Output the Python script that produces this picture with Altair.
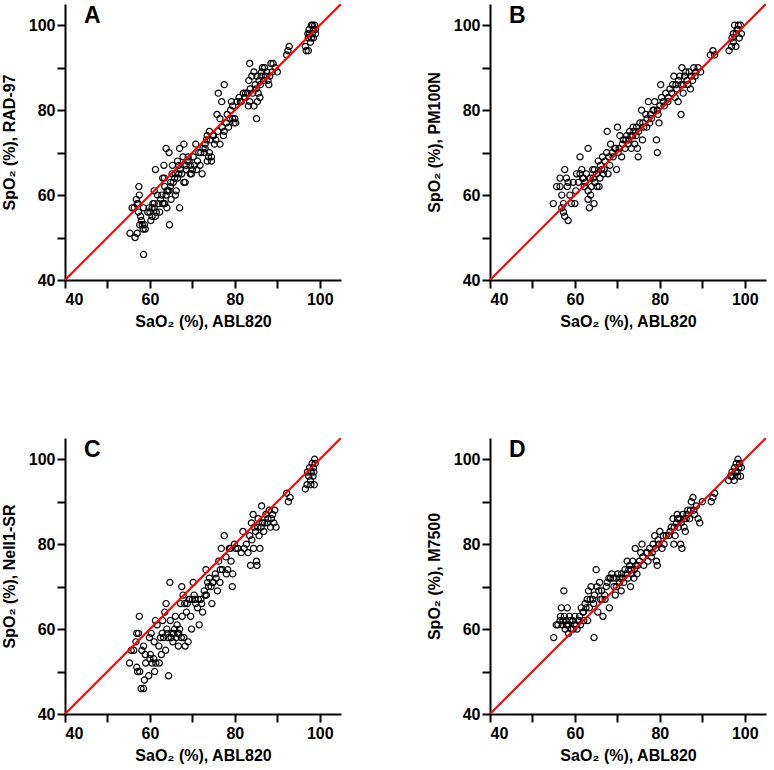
import altair as alt
import pandas as pd

panel_letters = ["A", "B", "C", "D"]
y_titles = ["SpO₂ (%),  RAD-97", "SpO₂ (%), PM100N", "SpO₂ (%), Nell1-SR", "SpO₂ (%), M7500"]
x_title = "SaO₂ (%), ABL820"
tick_values = [40, 50, 60, 70, 80, 90, 100]
axis_domain = [40, 105]
identity_line = [40, 105]

# (SaO2 ABL820, SpO2 device)
rad97 = [(55.3,51),(56.5,50),(57.0,51),(55.8,57),(56.3,57),(56.8,59),(57.0,58),(57.4,62),(57.5,60),(57.3,56),
         (57.8,55),(58.0,54),(57.6,53),(58.2,53),(58.7,53),(58.4,52),(58.9,52),(58.5,46),(58.5,57),(57.2,58),
         (59.5,56),(59.8,57),(60.0,56),(60.2,54),(60.5,55),(60.7,58),(61.0,58),(60.5,57),(61.0,57),(61.5,56),
         (61.3,55),(61.0,61),(61.3,66),(61.8,60),(62.0,58),(62.3,56),(62.5,59),(62.8,60),(63.0,58),(63.3,58),
         (63.5,58),(63.0,64),(63.4,64),(63.3,67),(63.8,71),(63.5,62),(63.8,60),(64.0,57),(64.0,61),(64.2,61),
         (64.5,61),(64.8,62),(64.5,70),(64.9,63),(64.6,53),(65.0,59),(65.2,65),(65.5,63),(65.3,67),(65.8,64),
         (66.0,65),(66.0,60),(66.2,61),(66.5,64),(66.5,68),(66.8,67),(67.0,71),(67.0,57),(66.8,65),(67.2,66),
         (67.5,65),(67.8,69),(68.0,72),(68.0,63),(68.3,63),(68.5,66),(68.5,67),(68.8,68),(69.0,69),(69.2,68),
         (69.5,67),(69.5,65),(69.8,65),(70.0,66),(70.2,69),(70.5,67),(70.8,72),(71.0,66),(71.2,68),(71.5,70),
         (71.8,67),(72.0,70),(72.3,65),(72.5,71),(72.8,70),(73.0,72),(73.0,71),(73.3,73),(73.5,74),(73.5,68),
         (73.8,69),(74.0,70),(74.0,75),(74.2,73),(74.5,69),(74.5,68),(74.8,74),(75.0,74),(75.2,72),(75.5,73),
         (75.8,79),(76.0,75),(76.1,84),(76.5,78),(76.9,82),(76.5,72),(77.0,76),(77.3,74),(77.5,75),(77.5,86),
         (78.0,77),(78.2,79),(78.5,76),(78.8,78),(79.0,80),(79.2,82),(79.5,81),(79.5,78),(79.8,77),(80.0,78),
         (80.2,77),(80.5,82),(81.0,83),(81.3,82),(81.5,82),(82.0,84),(82.3,83),(82.5,84),(83.0,84),(83.2,81),
         (83.5,82),(83.3,87),(83.5,91),(83.6,85),(84.0,88),(84.2,84),(84.5,81),(84.5,89),(84.8,86),(85.0,85),
         (85.2,88),(85.3,82),(85.5,84),(85.1,78),(85.7,87),(85.9,83),(86.0,86),(86.2,88),(86.3,89),(86.5,90),
         (86.8,87),(87.0,90),(87.2,88),(87.5,89),(87.8,87),(88.0,86),(88.2,88),(88.5,91),(88.8,89),(89.0,91),
         (89.5,90),(90.0,89),(92.2,93),(92.5,94),(92.8,95),(96.6,95),(96.8,94),(97.3,94),(97.2,98),(97.5,99),
         (97.8,96),(98.0,97),(98.0,100),(98.2,98),(98.5,99),(98.5,97),(98.8,100),(99.0,99),(99.0,98),(97.3,97),
         (97.6,98),(98.3,100)]

pm100n = [(54.9,58),(55.7,62),(56.5,64),(56.5,62),(56.9,60),(57.3,58),(56.9,57),(57.3,56),(57.6,55),(58.4,54),
          (57.6,66),(58.0,64),(58.4,63),(58.8,60),(59.2,58),(60.0,58),(59.6,63),(60.4,65),(60.8,63),(61.2,65),
          (61.2,69),(61.6,66),(62.0,64),(62.4,63),(62.7,65),(63.1,71),(63.1,61),(63.1,59),(63.4,57),(63.7,60),
          (63.9,62),(64.2,66),(64.3,64),(64.5,58),(64.7,63),(65.1,65),(65.5,68),(65.7,62),(65.9,64),(66.3,66),
          (66.5,69),(66.7,65),(67.1,68),(67.5,70),(67.6,75),(67.8,65),(68.2,67),(68.4,72),(69.0,69),(69.4,71),
          (69.8,66),(70.0,76),(70.2,70),(70.6,74),(71.0,69),(71.4,73),(71.8,71),(72.2,74),(72.5,72),(72.9,75),
          (73.3,71),(73.6,74),(73.7,76),(74.1,72),(74.4,74),(74.7,71),(74.9,69),(75.3,77),(75.7,80),(75.9,73),
          (76.2,76),(76.7,79),(76.9,76),(77.3,82),(77.6,77),(78.0,78),(78.4,80),(78.8,82),(79.2,73),(79.4,70),
          (79.6,79),(79.8,77),(80.2,86),(80.4,83),(80.8,82),(81.4,84),(81.9,82),(82.4,85),(83.0,86),(83.3,88),
          (83.6,83),(84.0,85),(84.3,82),(84.7,88),(85.0,79),(85.2,90),(85.5,84),(85.6,86),(86.1,89),(86.4,87),
          (86.9,89),(87.2,85),(87.7,87),(88.0,90),(88.5,89),(89.0,90),(89.6,89),(91.9,93),(92.5,94),(92.9,93),
          (96.3,94),(96.9,95),(97.3,96),(97.3,98),(97.6,100),(98.0,98),(98.4,99),(98.7,97),(99.0,100),(99.2,98),
          (97.9,95),(98.2,99),(58.2,62),(60.2,61),(61.8,64),(62.2,62),(63.6,64),(64.6,66),(65.2,62),(66.0,67),
          (66.9,66),(68.0,69),(68.8,70),(69.6,71),(70.4,71),(71.2,72),(72.0,73),(72.7,73),(73.2,74),(73.9,75),
          (74.5,76),(75.0,75),(76.0,77),(77.0,78),(77.8,79),(78.6,80),(79.4,80),(80.0,81),(81.0,81),(82.0,83),
          (82.8,84),(83.8,86),(84.4,87),(85.0,86),(85.8,88),(86.6,86),(87.4,88),(88.3,88),(97.0,97),(98.5,100)]

nell1 = [(55.2,52),(55.6,55),(56.2,55),(56.7,57),(56.9,59),(57.3,59),(57.5,63),(56.9,51),(57.1,50),(57.6,50),
         (57.9,46),(58.5,46),(58.1,55),(58.5,56),(58.9,54),(58.7,48),(59.7,49),(59.9,58),(60.3,59),(60.1,54),
         (60.5,52),(60.9,53),(61.1,50),(61.3,62),(61.4,52),(61.7,61),(62.1,56),(62.2,52),(62.7,54),(62.9,59),
         (63.0,62),(63.5,64),(63.7,55),(63.8,66),(64.0,60),(64.3,58),(64.4,49),(64.7,71),(64.8,62),(65.2,59),
         (65.4,57),(65.6,59),(66.0,63),(66.2,58),(66.4,61),(66.7,56),(66.8,59),(67.2,66),(67.5,70),(67.6,63),
         (67.8,68),(68.0,58),(68.3,56),(68.6,64),(68.8,66),(69.0,57),(69.4,67),(69.6,63),(69.8,60),(70.2,71),
         (70.4,68),(70.8,66),(71.2,65),(71.6,61),(72.0,67),(72.4,64),(72.8,69),(73.2,74),(73.3,68),(73.6,71),
         (74.0,72),(74.4,70),(74.6,66),(74.9,71),(75.4,73),(75.9,69),(76.2,76),(76.5,71),(76.8,79),(77.1,74),
         (77.5,82),(77.9,77),(78.3,74),(78.7,79),(79.1,76),(79.4,70),(79.5,73),(79.9,80),(80.7,79),(81.5,78),
         (81.9,83),(82.7,80),(83.1,78),(83.5,82),(83.7,75),(83.9,85),(84.3,87),(84.4,79),(84.9,83),(85.1,76),
         (85.2,75),(85.5,86),(85.7,82),(85.9,79),(86.3,89),(86.5,85),(86.8,83),(87.3,87),(87.6,85),(88.1,88),
         (88.4,84),(88.9,87),(89.2,85),(89.4,88),(89.7,84),(92.2,92),(92.6,90),(93.0,91),(96.6,93),(97.0,94),
         (97.1,97),(97.6,98),(97.8,95),(97.9,94),(98.2,99),(98.4,96),(98.6,97),(98.7,94),(98.9,99),(98.8,100),
         (59.0,52),(60.0,53),(61.0,57),(62.5,58),(63.2,58),(64.1,59),(65.0,58),(65.8,60),(66.5,59),(67.0,60),
         (67.4,58),(68.2,66),(69.2,67),(70.0,67),(70.6,67),(71.4,67),(72.2,66),(73.0,68),(73.8,70),(74.8,71),
         (75.6,72),(76.6,74),(78.0,73),(79.0,79),(80.2,79),(82.2,79),(84.0,81),(84.6,84),(85.4,84),(86.2,84),
         (87.0,85),(87.8,86),(88.6,86),(97.4,96),(98.0,97),(98.5,98)]

m7500 = [(55.0,58),(55.6,61),(56.0,61),(56.6,63),(56.8,65),(57.1,61),(57.4,69),(57.5,63),(57.7,60),(57.9,62),
         (58.2,65),(58.3,61),(58.5,59),(58.7,63),(59.1,60),(59.5,62),(59.9,61),(60.0,63),(60.5,60),(60.7,62),
         (61.1,63),(61.3,61),(61.5,65),(61.9,64),(62.1,62),(62.4,66),(62.9,67),(63.0,62),(63.2,69),(63.4,65),
         (63.8,70),(64.2,67),(64.5,58),(64.6,68),(65.0,74),(65.2,70),(65.4,64),(65.8,71),(66.0,67),(66.3,69),
         (66.6,63),(67.0,68),(67.1,67),(67.6,71),(68.1,65),(68.4,72),(68.7,73),(69.2,70),(69.5,68),(69.7,72),
         (70.1,73),(70.5,71),(70.9,69),(71.0,73),(71.5,71),(71.8,74),(72.3,76),(72.5,72),(72.9,75),(73.1,70),
         (73.4,73),(73.6,76),(73.9,72),(74.2,79),(74.4,75),(74.8,75),(75.5,78),(75.8,80),(76.2,75),(76.8,78),
         (77.2,76),(77.6,79),(78.0,77),(78.4,80),(78.8,82),(79.2,76),(79.4,75),(79.6,81),(80.0,83),(80.5,79),
         (81.0,80),(81.5,82),(82.1,82),(82.7,84),(83.1,86),(83.3,80),(83.6,82),(83.9,85),(84.1,87),(84.4,84),
         (84.7,86),(84.9,80),(85.2,79),(85.4,87),(85.7,84),(86.0,83),(86.2,86),(86.6,88),(87.0,86),(87.4,90),
         (87.8,91),(88.2,87),(88.6,89),(89.0,86),(89.4,85),(90.0,90),(92.1,90),(92.5,91),(92.9,92),(96.2,95),
         (96.7,96),(97.0,97),(97.5,95),(97.6,98),(98.0,99),(98.3,96),(98.4,100),(98.6,98),(98.8,99),(99.0,96),
         (99.2,98),(56.5,62),(57.2,62),(58.0,61),(58.8,62),(59.6,60),(60.3,61),(61.0,62),(62.0,64),(62.6,65),
         (63.6,67),(64.4,66),(65.6,69),(66.4,67),(67.4,70),(68.0,72),(69.0,72),(69.8,70),(70.6,72),(71.3,72),
         (72.0,73),(72.7,74),(73.2,74),(74.0,74),(74.6,73),(75.2,76),(76.0,77),(77.0,78),(78.2,78),(79.0,79),
         (79.8,80),(80.8,82),(82.4,83),(83.4,84),(84.2,86),(85.0,85),(85.8,86),(86.4,87),(87.2,88),(88.0,88),
         (97.2,96),(97.8,97),(98.2,97)]

all_data = [rad97, pm100n, nell1, m7500]

FONT = "Liberation Sans"


def make_panel(letter, points, ytitle):
    df = pd.DataFrame(points, columns=["sao2", "spo2"])
    xscale = alt.Scale(domain=axis_domain, nice=False, zero=False)
    yscale = alt.Scale(domain=axis_domain, nice=False, zero=False)
    label_expr = "datum.value % 20 == 0 ? datum.label : ''"
    x_enc = alt.X("sao2:Q", scale=xscale,
                  axis=alt.Axis(title=x_title, values=tick_values, labelExpr=label_expr,
                                titlePadding=6, labelPadding=3))
    y_enc = alt.Y("spo2:Q", scale=yscale,
                  axis=alt.Axis(title=ytitle, values=tick_values, labelExpr=label_expr,
                                titlePadding=11, labelPadding=2))
    pts = alt.Chart(df).mark_point(shape="circle", filled=False, color="black",
                                   size=38, strokeWidth=1.2, opacity=1).encode(x=x_enc, y=y_enc)
    line_df = pd.DataFrame({"sao2": identity_line, "spo2": identity_line})
    line = alt.Chart(line_df).mark_line(color="#ff0000", strokeWidth=2, clip=True).encode(
        x=alt.X("sao2:Q", scale=xscale), y=alt.Y("spo2:Q", scale=yscale))
    lab = alt.Chart(pd.DataFrame({"t": [letter]})).mark_text(
        align="left", baseline="alphabetic", font=FONT, fontSize=23, fontWeight="bold", color="black"
    ).encode(x=alt.value(19), y=alt.value(19), text="t:N")
    return alt.layer(pts, line, lab).properties(width=276, height=276)


panels = [make_panel(l, d, t) for l, d, t in zip(panel_letters, all_data, y_titles)]

chart = alt.concat(
    *panels, columns=2, spacing=alt.RowColnumber(row=158, column=149), bounds="flush"
).properties(
    padding={"left": 0, "top": 3, "right": 0, "bottom": 0}
).configure_axis(
    grid=False, domainColor="black", domainWidth=2, tickColor="black", tickWidth=2, tickSize=8,
    labelFont=FONT, labelFontSize=16, labelFontWeight="bold", labelColor="black",
    titleFont=FONT, titleFontSize=16, titleFontWeight="bold", titleColor="black",
).configure_view(stroke="transparent")

chart.save("out.html", embed_options={"renderer": "svg", "actions": False})
